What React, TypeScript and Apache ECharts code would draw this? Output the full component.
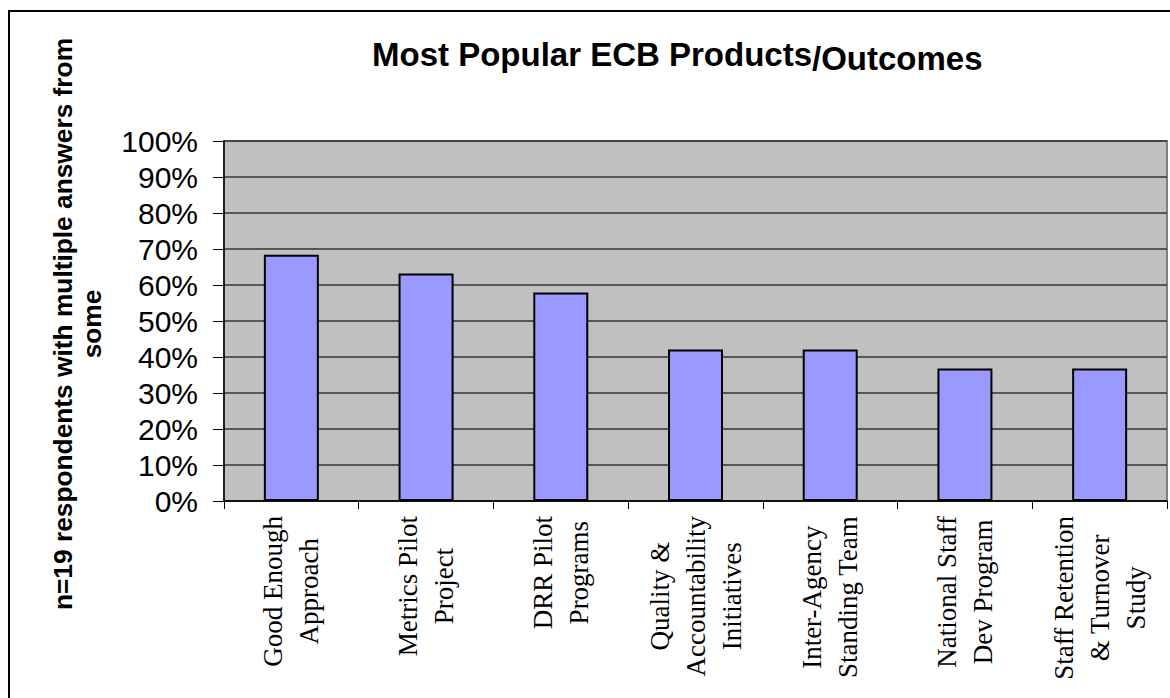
import React, { useEffect, useRef } from "react";
import * as echarts from "echarts";

const categories: string[] = [
  "Good Enough\nApproach",
  "Metrics Pilot\nProject",
  "DRR Pilot\nPrograms",
  "Quality &\nAccountability\nInitiatives",
  "Inter-Agency\nStanding Team",
  "National Staff\nDev Program",
  "Staff Retention\n& Turnover\nStudy",
];
const values: number[] = [0.684, 0.632, 0.579, 0.421, 0.421, 0.368, 0.368];
const titleMain = "Most Popular ECB Products";
const titleTail = "/Outcomes";
const yAxisTitle = "n=19 respondents with multiple answers from\nsome";

const SANS = '"Liberation Sans", Arial, sans-serif';
const SERIF = '"Liberation Serif", "Times New Roman", serif';

export default function App() {
  const ref = useRef<HTMLDivElement>(null);
  useEffect(() => {
    if (!ref.current) return;
    const chart = echarts.init(ref.current, undefined, { renderer: "svg" });
    chart.setOption({
      animation: false,
      backgroundColor: "#ffffff",
      title: {
        text: `{a|${titleMain}}{b|${titleTail}}`,
        left: 372,
        top: 33,
        padding: 0,
        textStyle: {
          rich: {
            a: { fontSize: 33, fontWeight: "bold", fontFamily: SANS, color: "#000" },
            b: { fontSize: 33, fontWeight: "bold", fontFamily: SANS, color: "#000", padding: [9, 0, 0, 0] },
          },
        },
      },
      graphic: [
        {
          type: "rect",
          shape: { x: 9, y: 11, width: 1250, height: 750 },
          style: { fill: "none", stroke: "#000", lineWidth: 2 },
          silent: true,
        },
        {
          type: "text",
          x: 77,
          y: 324,
          rotation: Math.PI / 2,
          style: {
            text: yAxisTitle,
            font: `bold 26.3px ${SANS}`,
            fill: "#000",
            align: "center",
            verticalAlign: "middle",
            lineHeight: 29,
          },
        },
      ],
      grid: {
        left: 224,
        right: 3,
        top: 141,
        bottom: 197,
        show: true,
        backgroundColor: "#C0C0C0",
        borderColor: "#808080",
        borderWidth: 2,
      },
      xAxis: {
        type: "category",
        data: categories,
        axisLine: { show: true, lineStyle: { color: "#000", width: 1.5 } },
        axisTick: { show: true, length: 8, lineStyle: { color: "#000", width: 1 } },
        axisLabel: {
          interval: 0,
          rotate: 90,
          margin: 15,
          color: "#000",
          fontFamily: SERIF,
          fontSize: 27,
          lineHeight: 36,
          formatter: (v: string) =>
            v
              .split("\n")
              .map((s) => `{c|${s}}`)
              .join("\n"),
          rich: {
            c: { align: "center", fontFamily: SERIF, fontSize: 27, lineHeight: 36, color: "#000" },
          },
        },
      },
      yAxis: {
        type: "value",
        min: 0,
        max: 1,
        interval: 0.1,
        axisLine: { show: true, lineStyle: { color: "#000", width: 1.5 } },
        axisTick: { show: true, length: 11, lineStyle: { color: "#000", width: 1 } },
        axisLabel: {
          margin: 26,
          color: "#000",
          fontFamily: SANS,
          fontSize: 30,
          formatter: (v: number) => `${Math.round(v * 100)}%`,
        },
        splitLine: { show: true, lineStyle: { color: "#333", width: 1.5 } },
      },
      series: [
        {
          type: "bar",
          data: values,
          barWidth: 55,
          itemStyle: { color: "#9999FF", borderColor: "#000", borderWidth: 2 },
        },
      ],
    });
    return () => chart.dispose();
  }, []);
  return (
    <div
      ref={ref}
      style={{ position: "fixed", left: 0, top: 0, width: 1170, height: 698 }}
    />
  );
}
